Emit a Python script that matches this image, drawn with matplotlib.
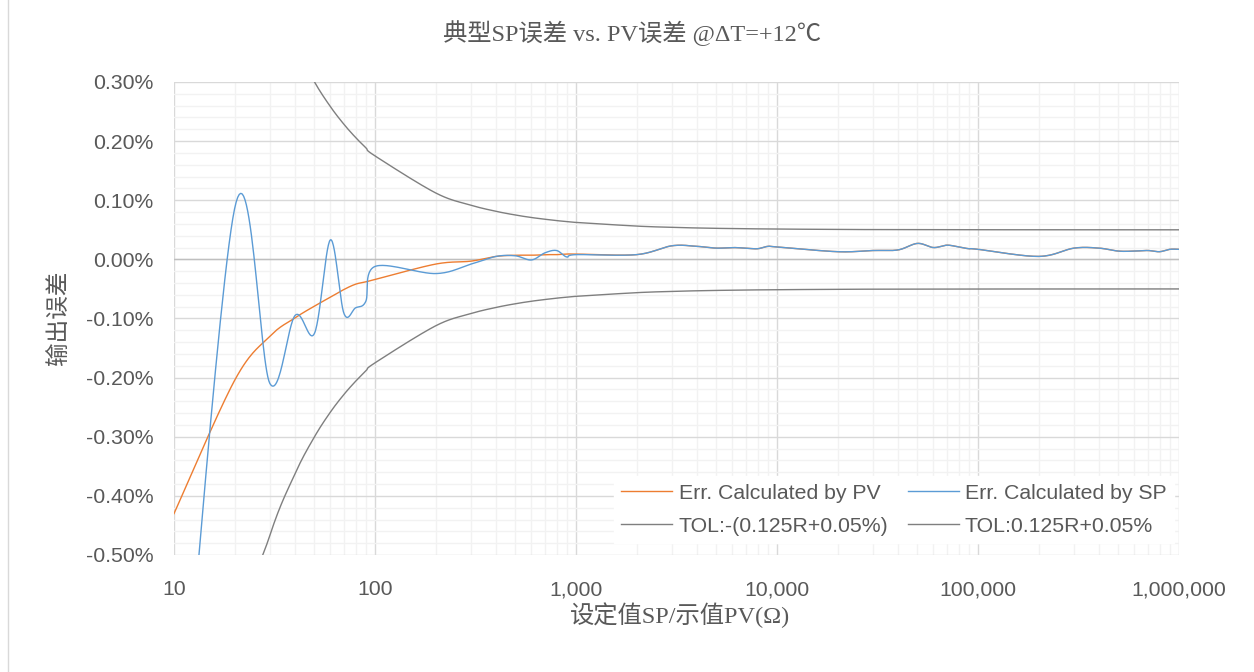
import numpy as np
import matplotlib
matplotlib.use('Agg')
import matplotlib.pyplot as plt
from matplotlib.ticker import FuncFormatter, FixedLocator
from matplotlib.lines import Line2D

# resistance points (ohm): 1..9 per decade
r_points = [10, 20, 30, 40, 50, 60, 70, 80, 90,
            100, 200, 300, 400, 500, 600, 700, 800, 900,
            1000, 2000, 3000, 4000, 5000, 6000, 7000, 8000, 9000,
            10000, 20000, 30000, 40000, 50000, 60000, 70000, 80000, 90000,
            100000, 200000, 300000, 400000, 500000, 600000, 700000, 800000, 900000,
            1000000]

# error in percent
err_pv = [-0.430, -0.205, -0.130, -0.099, -0.079, -0.064, -0.051, -0.042, -0.038,
          -0.034, -0.008, -0.003, 0.005, 0.007, 0.007, 0.008, 0.008, 0.009,
          0.009, 0.008, 0.023, 0.022, 0.019, 0.020, 0.019, 0.018, 0.022,
          0.021, 0.013, 0.015, 0.016, 0.027, 0.020, 0.024, 0.021, 0.018,
          0.017, 0.005, 0.019, 0.019, 0.014, 0.014, 0.015, 0.013, 0.017,
          0.017]

err_sp = [-1.000, 0.085, -0.210, -0.095, -0.125, 0.033, -0.091, -0.082, -0.071,
          -0.012, -0.024, -0.008, 0.005, 0.006, -0.001, 0.011, 0.015, 0.004,
          0.008, 0.008, 0.023, 0.022, 0.019, 0.020, 0.019, 0.018, 0.022,
          0.021, 0.013, 0.015, 0.016, 0.027, 0.020, 0.024, 0.021, 0.018,
          0.017, 0.005, 0.019, 0.019, 0.014, 0.014, 0.015, 0.013, 0.017,
          0.017]

tol_pos = [1.3000, 0.6750, 0.4667, 0.3625, 0.3000, 0.2583, 0.2286, 0.2063, 0.1889,
           0.1750, 0.1125, 0.0917, 0.0813, 0.0750, 0.0708, 0.0679, 0.0656, 0.0639,
           0.0625, 0.0563, 0.0542, 0.0531, 0.0525, 0.0521, 0.0518, 0.0516, 0.0514,
           0.0513, 0.0506, 0.0504, 0.0503, 0.0503, 0.0502, 0.0502, 0.0502, 0.0501,
           0.0501, 0.0501, 0.0500, 0.0500, 0.0500, 0.0500, 0.0500, 0.0500, 0.0500,
           0.0500]
tol_neg = [-v for v in tol_pos]

y_ticks = [0.30, 0.20, 0.10, 0.00, -0.10, -0.20, -0.30, -0.40, -0.50]
x_ticks = [10, 100, 1000, 10000, 100000, 1000000]

# pixel scale of the plot area, used for excel-like smoothing
PX_DEC = 201.0
PX_PCT = 590.0


def SmoothExcel(xs, ys, n=30):
    X = np.log10(np.array(xs, float)) * PX_DEC
    Y = np.array(ys, float) * PX_PCT
    P = np.column_stack([X, Y])
    N = len(P)
    out = [P[0]]
    for i in range(N - 1):
        p0 = P[i - 1] if i > 0 else P[i]
        p1 = P[i]
        p2 = P[i + 1]
        p3 = P[i + 2] if i + 2 < N else P[i + 1]
        b1 = p1 + (p2 - p0) / 6.0
        b2 = p2 - (p3 - p1) / 6.0
        t = np.linspace(0, 1, n)[1:, None]
        seg = (1 - t)**3 * p1 + 3 * (1 - t)**2 * t * b1 + 3 * (1 - t) * t**2 * b2 + t**3 * p2
        out.extend(seg)
    out = np.array(out)
    return 10**(out[:, 0] / PX_DEC), out[:, 1] / PX_PCT


plt.rcParams['font.family'] = ['Liberation Sans', 'DejaVu Sans']
fig = plt.figure(figsize=(12.54, 6.72), dpi=100)
ax = fig.add_axes([174/1254, 1 - 555/672, 1005/1254, 473/672])

gray_txt = '#595959'
fs = 15.3
ax.set_xscale('log')
ax.set_xlim(10, 1000000)
ax.set_ylim(-0.5, 0.3)

# grid
ax.yaxis.set_major_locator(FixedLocator(y_ticks))
ax.yaxis.set_minor_locator(FixedLocator(np.arange(-0.5, 0.301, 0.02)))
ax.xaxis.set_major_locator(FixedLocator(x_ticks))
ax.xaxis.set_minor_locator(FixedLocator([k * 10**d for d in range(1, 6) for k in range(2, 10)]))
ax.grid(which='minor', color='#f2f2f2', lw=1.0)
ax.grid(which='major', color='#d9d9d9', lw=1.0)
ax.set_axisbelow(True)
ax.axhline(0, color='#bfbfbf', lw=1.0, zorder=1)
for s in ax.spines.values():
    s.set_visible(False)
ax.tick_params(which='both', length=0)
ax.tick_params(axis='y', pad=15, labelsize=fs, labelcolor=gray_txt)
ax.tick_params(axis='x', pad=18, labelsize=fs, labelcolor=gray_txt)
ax.yaxis.set_major_formatter(FuncFormatter(lambda v, p: '%.2f%%' % (0.0 if abs(v) < 1e-9 else v)))
ax.xaxis.set_major_formatter(FuncFormatter(lambda v, p: '{:,}'.format(int(round(v)))))

xs, ys = SmoothExcel(r_points, err_pv)
l_pv, = ax.plot(xs, ys, color='#ED7D31', lw=1.0, label='Err. Calculated by PV', zorder=3)
xs, ys = SmoothExcel(r_points, err_sp)
l_sp, = ax.plot(xs, ys, color='#5B9BD5', lw=1.0, label='Err. Calculated by SP', zorder=4)
xs, ys = SmoothExcel(r_points, tol_neg)
l_tn, = ax.plot(xs, ys, color='#7f7f7f', lw=1.0, label='TOL:-(0.125R+0.05%)', zorder=3)
xs, ys = SmoothExcel(r_points, tol_pos)
l_tp, = ax.plot(xs, ys, color='#7f7f7f', lw=1.0, label='TOL:0.125R+0.05%', zorder=3)

leg = ax.legend(handles=[l_pv, l_tn, l_sp, l_tp], ncol=2, loc='lower right',
                bbox_to_anchor=(0.995, 0.025), frameon=True, fancybox=False,
                edgecolor='white', framealpha=1.0, fontsize=fs,
                handlelength=2.4, handletextpad=0.3, columnspacing=0.9,
                borderpad=0.35, labelspacing=0.65, borderaxespad=0.0)
for t in leg.get_texts():
    t.set_color(gray_txt)

title_font = ['Liberation Serif', 'Noto Sans CJK SC']
fig.text(632/1254, 1 - 33/672, '典型SP误差 vs. PV误差 @ΔT=+12℃', ha='center', va='center',
         fontsize=17.5, color=gray_txt, family=title_font)
fig.text(680/1254, 1 - 615/672, '设定值SP/示值PV(Ω)', ha='center', va='center',
         fontsize=17.5, color=gray_txt, family=title_font)
fig.text(58/1254, 1 - 318/672, '输出误差', ha='center', va='center', rotation=90,
         fontsize=17, color=gray_txt, family=['Noto Sans CJK SC', 'DejaVu Sans'])

fig.add_artist(Line2D([8/1254, 8/1254], [0, 1], transform=fig.transFigure,
                      color='#d9d9d9', lw=1.0))

fig.savefig('out.png', dpi=100, facecolor='white')
